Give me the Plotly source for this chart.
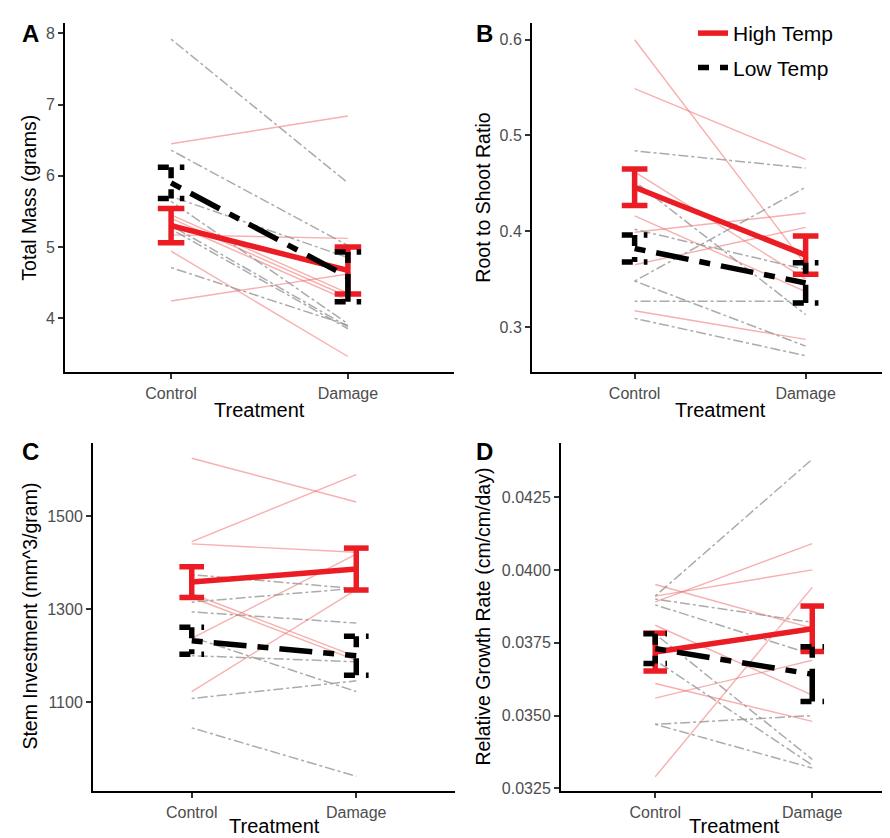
import plotly.graph_objects as go

W, H = 890, 838

treatments = ["Control", "Damage"]

# ---------------- Panel A: Total Mass (grams) ----------------
A_high_control = [6.45, 5.45, 5.40, 5.34, 5.17, 4.94, 4.24]
A_high_damage = [6.84, 4.35, 4.30, 4.25, 5.12, 3.46, 4.62]
A_low_control = [7.92, 6.36, 5.71, 5.64, 5.30, 5.25, 4.71]
A_low_damage = [5.90, 5.02, 4.85, 3.92, 3.88, 3.85, 3.90]
A_high_mean = [5.30, 4.67]
A_high_se = [0.24, 0.33]
A_low_mean = [5.90, 4.58]
A_low_se = [0.22, 0.35]

# ---------------- Panel B: Root to Shoot Ratio ----------------
B_high_control = [0.600, 0.549, 0.462, 0.416, 0.399, 0.365, 0.317]
B_high_damage = [0.365, 0.475, 0.350, 0.337, 0.419, 0.404, 0.287]
B_low_control = [0.484, 0.452, 0.402, 0.348, 0.348, 0.327, 0.309]
B_low_damage = [0.466, 0.313, 0.360, 0.446, 0.280, 0.327, 0.270]
B_high_mean = [0.446, 0.375]
B_high_se = [0.019, 0.020]
B_low_mean = [0.382, 0.346]
B_low_se = [0.014, 0.021]

# ---------------- Panel C: Stem Investment ----------------
C_high_control = [1624, 1445, 1440, 1333, 1325, 1237, 1123]
C_high_damage = [1530, 1589, 1422, 1198, 1190, 1418, 1342]
C_low_control = [1374, 1315, 1294, 1240, 1200, 1108, 1045]
C_low_damage = [1344, 1345, 1270, 1123, 1187, 1146, 941]
C_high_mean = [1358, 1386]
C_high_se = [33, 45]
C_low_mean = [1232, 1200]
C_low_se = [29, 42]

# ---------------- Panel D: Relative Growth Rate ----------------
D_high_control = [0.0329, 0.0389, 0.0391, 0.0395, 0.0381, 0.0361, 0.0356]
D_high_damage = [0.0394, 0.0409, 0.0400, 0.0380, 0.0357, 0.0348, 0.0369]
D_low_control = [0.0391, 0.0390, 0.0388, 0.0378, 0.0369, 0.0347, 0.0347]
D_low_damage = [0.0438, 0.0382, 0.0371, 0.0335, 0.0333, 0.0350, 0.0332]
D_high_mean = [0.03718, 0.03798]
D_high_se = [0.00065, 0.00078]
D_low_mean = [0.03730, 0.03642]
D_low_se = [0.00051, 0.00094]

y_titles = ["Total Mass (grams)", "Root to Shoot Ratio",
            "Stem Investment (mm^3/gram)", "Relative Growth Rate (cm/cm/day)"]
panel_letters = ["A", "B", "C", "D"]
y_tickvals = [[4, 5, 6, 7, 8], [0.3, 0.4, 0.5, 0.6], [1100, 1300, 1500],
              [0.0325, 0.0350, 0.0375, 0.0400, 0.0425]]
y_tickfmt = ["d", ".1f", "d", ".4f"]

panels = [
    (A_high_control, A_high_damage, A_low_control, A_low_damage,
     A_high_mean, A_high_se, A_low_mean, A_low_se),
    (B_high_control, B_high_damage, B_low_control, B_low_damage,
     B_high_mean, B_high_se, B_low_mean, B_low_se),
    (C_high_control, C_high_damage, C_low_control, C_low_damage,
     C_high_mean, C_high_se, C_low_mean, C_low_se),
    (D_high_control, D_high_damage, D_low_control, D_low_damage,
     D_high_mean, D_high_se, D_low_mean, D_low_se),
]

# layout geometry (pixels)
geom = [
    # x_left, x_right, y_top, y_bottom, xrange, yrange
    (57, 446, 15, 367, [0.4, 2.6], [3.237, 8.149]),
    (524, 890, 15, 367, [0.4, 2.54], [0.2526, 0.6176]),
    (85, 447, 438, 789, [0.4, 2.6], [908.7, 1657]),
    (553, 890, 438, 789, [0.4, 2.546], [0.03240, 0.04436]),
]
title_centers = [(251, 21, 191), (712, 475, 191), (266, 22, 613), (726, 475, 613)]
letter_pos = [(22, 26), (476, 26), (22, 447), (477, 447)]
xtitle_y = [405, 405, 824, 824]

RED = "#EC1C24"
PINK = "rgba(240,110,110,0.55)"
GRAY = "rgba(150,150,150,0.8)"
FONT = "Liberation Sans, Arial, Helvetica, sans-serif"
CAP = 0.075

xpos = [1, 2]


def seg_xy(ctrl, dmg):
    xs, ys = [], []
    for c, d in zip(ctrl, dmg):
        xs += [xpos[0], xpos[1], None]
        ys += [c, d, None]
    return xs, ys


def errbar_xy(mean, se):
    xs, ys = [], []
    for xc, m, s in zip(xpos, mean, se):
        hi, lo = m + s, m - s
        xs += [xc - CAP, xc + CAP, None, xc, xc, None, xc - CAP, xc + CAP, None]
        ys += [hi, hi, None, hi, lo, None, lo, lo, None]
    return xs, ys


fig = go.Figure()
annotations = []
layout_axes = {}

for i, (hc, hd, lc, ld, hm, hs, lm, ls) in enumerate(panels):
    k = "" if i == 0 else str(i + 1)
    xa, ya = "x" + k, "y" + k
    x0, x1, yt, yb, xr, yr = geom[i]

    # individual plants
    xs, ys = seg_xy(hc, hd)
    fig.add_trace(go.Scatter(x=xs, y=ys, xaxis=xa, yaxis=ya, mode="lines",
                             line=dict(color=PINK, width=1.4),
                             showlegend=False, hoverinfo="skip"))
    xs, ys = seg_xy(lc, ld)
    fig.add_trace(go.Scatter(x=xs, y=ys, xaxis=xa, yaxis=ya, mode="lines",
                             line=dict(color=GRAY, width=1.5, dash="3px,3px,10px,3px"),
                             showlegend=False, hoverinfo="skip"))
    # High temp mean + SE
    ex, ey = errbar_xy(hm, hs)
    fig.add_trace(go.Scatter(x=ex, y=ey, xaxis=xa, yaxis=ya, mode="lines",
                             line=dict(color=RED, width=5.5),
                             showlegend=False, hoverinfo="skip"))
    fig.add_trace(go.Scatter(x=xpos, y=hm, xaxis=xa, yaxis=ya, mode="lines",
                             line=dict(color=RED, width=5.5),
                             name="High Temp", legendgroup="high",
                             showlegend=(i == 0)))
    # Low temp mean + SE
    ex, ey = errbar_xy(lm, ls)
    fig.add_trace(go.Scatter(x=ex, y=ey, xaxis=xa, yaxis=ya, mode="lines",
                             line=dict(color="black", width=5.5,
                                       dash="11px,11px,33px,11px"),
                             showlegend=False, hoverinfo="skip"))
    fig.add_trace(go.Scatter(x=xpos, y=lm, xaxis=xa, yaxis=ya, mode="lines",
                             line=dict(color="black", width=5.5,
                                       dash="11px,11px,33px,11px"),
                             name="Low Temp", legendgroup="low",
                             showlegend=(i == 0)))

    layout_axes["xaxis" + k] = dict(
        domain=[x0 / W, x1 / W], range=xr, anchor=ya,
        tickvals=xpos, ticktext=treatments,
        showgrid=False, zeroline=False, showline=True, linecolor="black",
        linewidth=2, ticks="outside", ticklen=5, tickwidth=1.5, tickcolor="#333333",
        tickfont=dict(size=16, color="#4D4D4D", family=FONT), fixedrange=True)
    layout_axes["yaxis" + k] = dict(
        domain=[1 - yb / H, 1 - yt / H], range=yr, anchor=xa,
        tickvals=y_tickvals[i], tickformat=y_tickfmt[i],
        showgrid=False, zeroline=False, showline=True, linecolor="black",
        linewidth=2, ticks="outside", ticklen=5, tickwidth=1.5, tickcolor="#333333",
        tickfont=dict(size=16, color="#4D4D4D", family=FONT), fixedrange=True)

    cx, ty_x, ty_y = title_centers[i]
    annotations.append(dict(text="Treatment", x=cx / W, y=1 - xtitle_y[i] / H,
                            xref="paper", yref="paper", showarrow=False,
                            xanchor="center", yanchor="middle",
                            font=dict(size=20, color="black", family=FONT)))
    annotations.append(dict(text=y_titles[i], x=ty_x / W, y=1 - ty_y / H,
                            xref="paper", yref="paper", showarrow=False,
                            textangle=-90, xanchor="center", yanchor="middle",
                            font=dict(size=19.5, color="black", family=FONT)))
    lx, ly = letter_pos[i]
    annotations.append(dict(text="<b>" + panel_letters[i] + "</b>", x=lx / W, y=1 - ly / H,
                            xref="paper", yref="paper", showarrow=False,
                            xanchor="center", yanchor="middle",
                            font=dict(size=24, color="black", family=FONT)))

fig.update_layout(
    width=W, height=H,
    margin=dict(l=0, r=0, t=0, b=0),
    paper_bgcolor="white", plot_bgcolor="white",
    font=dict(family=FONT),
    showlegend=True,
    legend=dict(x=685 / W, y=1 - 5 / H, xanchor="left", yanchor="top",
                font=dict(size=21, color="black", family=FONT),
                bgcolor="rgba(0,0,0,0)", traceorder="grouped", tracegroupgap=4),
    annotations=annotations,
    **layout_axes,
)

fig.write_html("out.html")
